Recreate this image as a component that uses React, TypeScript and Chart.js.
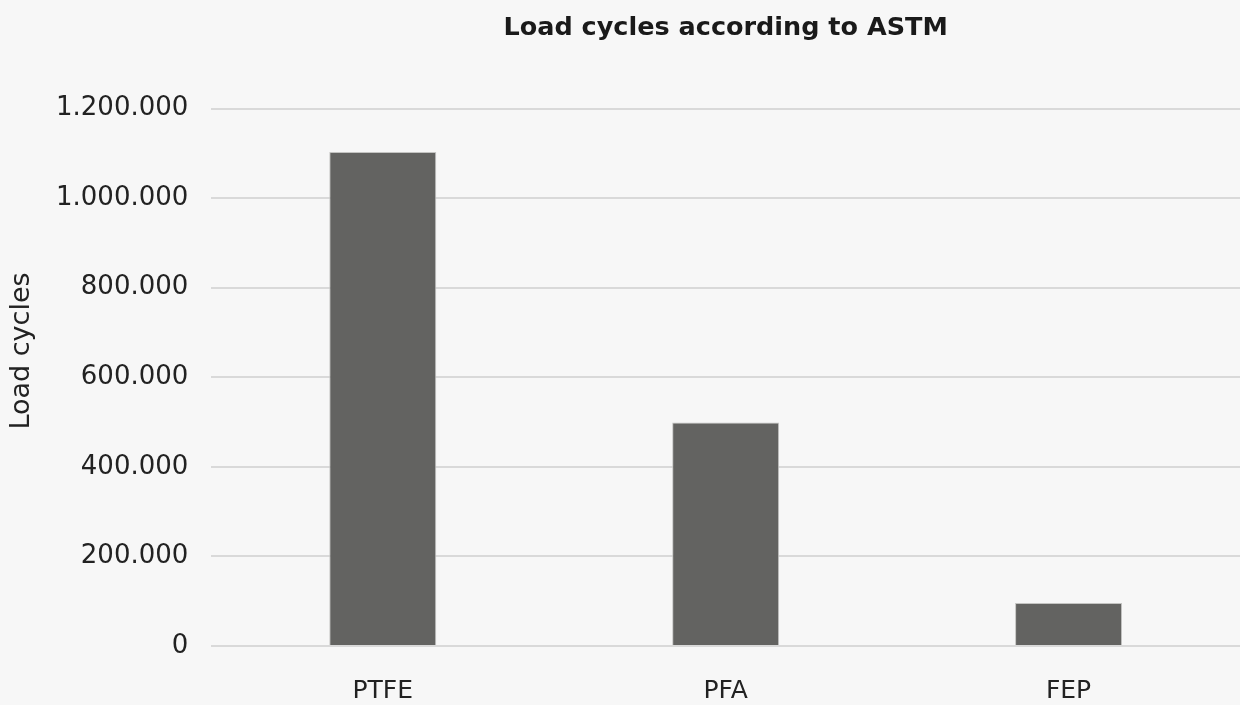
import React, { useEffect, useRef } from "react";
import { Chart, registerables } from "chart.js";

Chart.register(...registerables);

const categories: string[] = ["PTFE", "PFA", "FEP"];
const loadCycles: number[] = [1103000, 499000, 96000];
const yTicks: number[] = [0, 200000, 400000, 600000, 800000, 1000000, 1200000];
const chartTitle = "Load cycles according to ASTM";
const yAxisTitle = "Load cycles";

const fmt = (v: number) => String(Math.round(v)).replace(/\B(?=(\d{3})+(?!\d))/g, ".");

const yTitlePlugin = {
  id: "yTitlePlugin",
  afterDraw(chart: any) {
    const ctx = chart.ctx as CanvasRenderingContext2D;
    ctx.save();
    ctx.translate(22, 351);
    ctx.rotate(-Math.PI / 2);
    ctx.font = "27px 'DejaVu Sans'";
    ctx.fillStyle = "#222222";
    ctx.textAlign = "center";
    ctx.textBaseline = "middle";
    ctx.fillText(yAxisTitle, 0, 0);
    ctx.restore();
  },
};

export default function App() {
  const ref = useRef<HTMLCanvasElement | null>(null);
  useEffect(() => {
    document.body.style.background = "#f7f7f7";
    if (!ref.current) return;
    Chart.defaults.font.family = "'DejaVu Sans'";
    Chart.defaults.color = "#222222";
    const chart = new Chart(ref.current, {
      type: "bar",
      data: {
        labels: categories,
        datasets: [
          {
            label: yAxisTitle,
            data: loadCycles,
            backgroundColor: "#636361",
            borderColor: "#c4c4c2",
            borderWidth: 1,
            barPercentage: 0.312,
            categoryPercentage: 1,
          },
        ],
      },
      options: {
        responsive: false,
        animation: false,
        layout: { padding: { left: 33, right: 0, top: 0, bottom: 0 } },
        plugins: {
          legend: { display: false },
          tooltip: { enabled: false },
          title: {
            display: true,
            text: chartTitle,
            fullSize: false,
            font: { size: 25.5, weight: "bold" },
            color: "#1a1a1a",
            padding: { top: 13, bottom: 65 },
          },
        },
        scales: {
          x: {
            grid: { display: false, drawTicks: false },
            border: { display: false },
            ticks: { font: { size: 25 }, padding: 30, color: "#222222" },
            afterFit: (scale: any) => {
              scale.height = 59;
            },
          },
          y: {
            min: 0,
            max: 1200000,
            afterBuildTicks: (axis: any) => {
              axis.ticks = yTicks.map((v) => ({ value: v }));
            },
            grid: { color: "#d9d9d9", lineWidth: 2, drawTicks: false },
            border: { display: false },
            ticks: {
              font: { size: 26 },
              padding: 23,
              color: "#222222",
              callback: (v: any) => fmt(Number(v)),
            },
          },
        },
      },
      plugins: [yTitlePlugin],
    });
    return () => chart.destroy();
  }, []);
  return (
    <div style={{ position: "absolute", left: 0, top: 0, width: 1240, height: 705, background: "#f7f7f7", overflow: "hidden" }}>
      <canvas ref={ref} width={1240} height={705} style={{ display: "block" }} />
    </div>
  );
}
